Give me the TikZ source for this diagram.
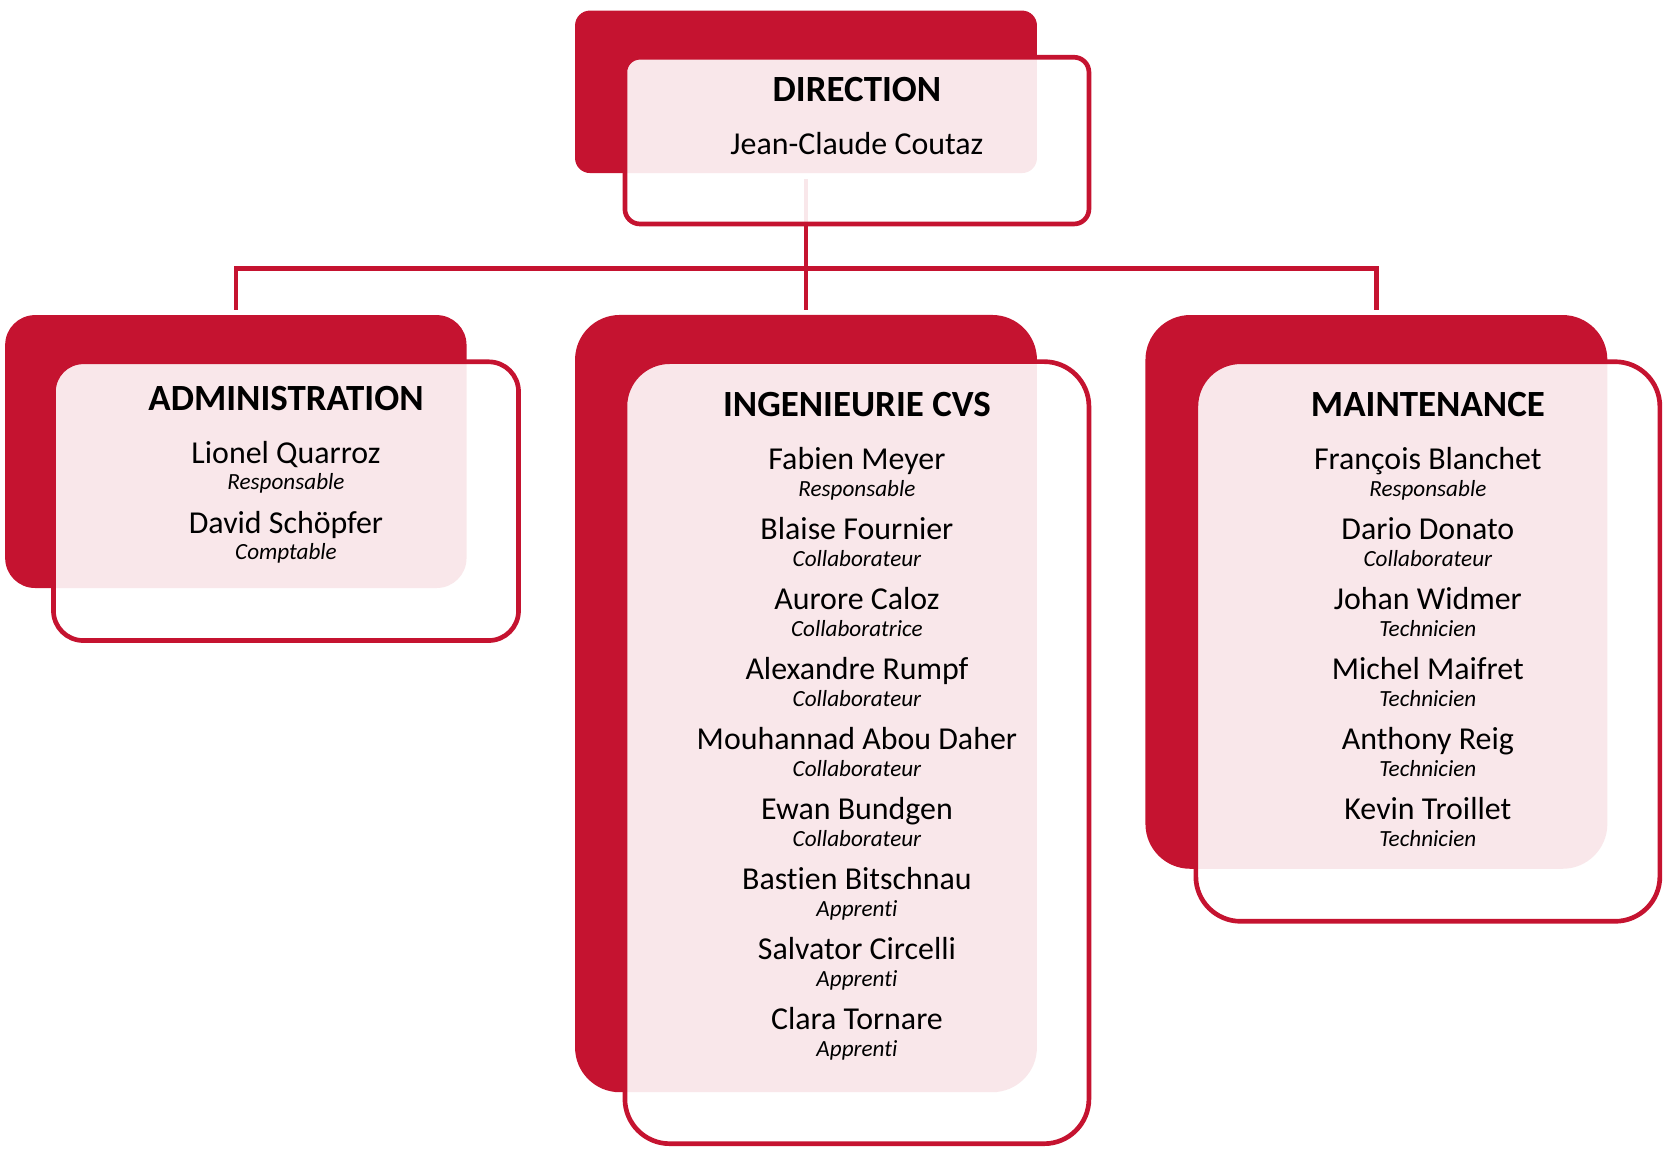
\documentclass[tikz,border=0pt]{standalone}
\usepackage{fontspec}
\setmainfont{Carlito}[Ligatures=NoCommon]
\definecolor{orgred}{RGB}{197,19,48}
\tikzset{
  redbox/.style={rectangle, fill=orgred, inner sep=0pt, outer sep=0pt},
  framebox/.style={rectangle, draw=orgred, line width=1.25pt, fill=white, fill opacity=0.9, inner sep=0pt, outer sep=0pt},
  link/.style={draw=orgred, line width=1.2pt},
  boxtitle/.style={anchor=base, inner sep=0pt, font=\fontsize{9.9}{12}\selectfont\bfseries},
  person/.style={anchor=base, inner sep=0pt, font=\fontsize{8.55}{10}\selectfont},
  persrole/.style={anchor=base, inner sep=0pt, font=\fontsize{6.2}{7}\selectfont\itshape}
}
\begin{document}
\begin{tikzpicture}[x=0.01cm, y=-0.01cm]
      \useasboundingbox (0,0) rectangle (1568,1084);
      % red boxes behind
      \node[redbox, rounded corners=4pt, minimum width=4.35cm, minimum height=1.53cm] (dirback) at (759.5,86.5) {};
      \node[redbox, rounded corners=8pt, minimum width=4.345cm, minimum height=2.57cm] (admback) at (222.25,425.5) {};
      \node[redbox, rounded corners=12pt, minimum width=4.35cm, minimum height=7.32cm] (cvsback) at (759.5,663) {};
      \node[redbox, rounded corners=12pt, minimum width=4.35cm, minimum height=5.215cm] (mntback) at (1297,557.75) {};
      \coordinate (bus) at (759.5,253);
      \begin{scope}[link]
        \draw[shorten <=0.06cm, shorten >=0.05cm] (dirback.south) -- (cvsback.north);
        \draw[shorten <=0.05cm, shorten >=0.05cm] (admback.north) |- (bus) -| (mntback.north);
      \end{scope}
      % outlined boxes in front
      \node[framebox, rounded corners=4pt, minimum width=4.37cm, minimum height=1.57cm] (dirfront) at (807.5,132.5) {};
      \node[framebox, rounded corners=8pt, minimum width=4.38cm, minimum height=2.625cm] (admfront) at (269.5,472.25) {};
      \node[framebox, rounded corners=12pt, minimum width=4.37cm, minimum height=7.365cm] (cvsfront) at (807.5,709.25) {};
      \node[framebox, rounded corners=12pt, minimum width=4.37cm, minimum height=5.27cm] (mntfront) at (1345.5,604.5) {};
      \draw
        (807.5,96) node[boxtitle] (dir){DIRECTION}
        (807.5,146) node[person] (dir1){Jean-Claude Coutaz};
      \draw
        (269.5,387) node[boxtitle] (adm){ADMINISTRATION}
        (269.5,436.5) node[person] (adm1){Lionel Quarroz}
        (269.5,461.5) node[persrole] (adm1r){Responsable}
        (269.5,503) node[person] (adm2){David Schöpfer}
        (269.5,527.5) node[persrole] (adm2r){Comptable};
      \draw
        (807.5,392) node[boxtitle] (cvs){INGENIEURIE CVS}
        (807.5,442.5) node[person] (cvs1){Fabien Meyer}
        (807.5,468) node[persrole] (cvs1r){Responsable}
        (807.5,508.5) node[person] (cvs2){Blaise Fournier}
        (807.5,534) node[persrole] (cvs2r){Collaborateur}
        (807.5,574.5) node[person] (cvs3){Aurore Caloz}
        (807.5,600) node[persrole] (cvs3r){Collaboratrice}
        (807.5,640.5) node[person] (cvs4){Alexandre Rumpf}
        (807.5,666) node[persrole] (cvs4r){Collaborateur}
        (807.5,706.5) node[person] (cvs5){Mouhannad Abou Daher}
        (807.5,732) node[persrole] (cvs5r){Collaborateur}
        (807.5,772.5) node[person] (cvs6){Ewan Bundgen}
        (807.5,798) node[persrole] (cvs6r){Collaborateur}
        (807.5,838.5) node[person] (cvs7){Bastien Bitschnau}
        (807.5,864) node[persrole] (cvs7r){Apprenti}
        (807.5,904.5) node[person] (cvs8){Salvator Circelli}
        (807.5,930) node[persrole] (cvs8r){Apprenti}
        (807.5,970.5) node[person] (cvs9){Clara Tornare}
        (807.5,996) node[persrole] (cvs9r){Apprenti};
      \draw
        (1345.5,392) node[boxtitle] (mnt){MAINTENANCE}
        (1345.5,442.5) node[person] (mnt1){François Blanchet}
        (1345.5,468) node[persrole] (mnt1r){Responsable}
        (1345.5,508.5) node[person] (mnt2){Dario Donato}
        (1345.5,534) node[persrole] (mnt2r){Collaborateur}
        (1345.5,574.5) node[person] (mnt3){Johan Widmer}
        (1345.5,600) node[persrole] (mnt3r){Technicien}
        (1345.5,640.5) node[person] (mnt4){Michel Maifret}
        (1345.5,666) node[persrole] (mnt4r){Technicien}
        (1345.5,706.5) node[person] (mnt5){Anthony Reig}
        (1345.5,732) node[persrole] (mnt5r){Technicien}
        (1345.5,772.5) node[person] (mnt6){Kevin Troillet}
        (1345.5,798) node[persrole] (mnt6r){Technicien};
\end{tikzpicture}
\end{document}
